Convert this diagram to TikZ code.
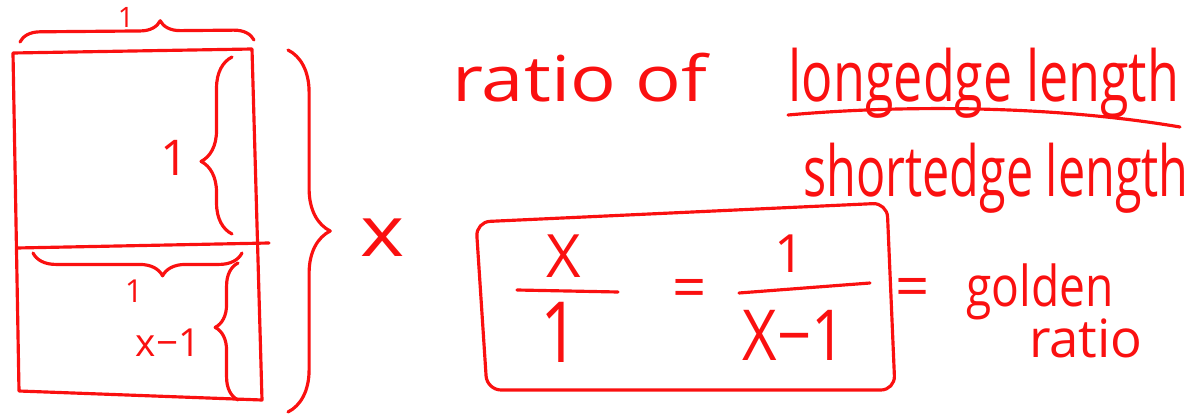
\documentclass[tikz,border=0pt]{standalone}
\usepackage{fontspec}
\setmainfont{Open Sans}
\usetikzlibrary{decorations.pathreplacing}

\begin{document}
\begin{tikzpicture}[x=0.01cm, y=-0.01cm, line width=0.9pt, line cap=round, line join=round]
  % Pen colour of the sketch
  \definecolor{cInk}{RGB}{250, 16, 16}

  \tikzset{
    hand/.style={text=cInk, inner sep=0pt, font=\fontsize{#1}{#1}\selectfont},
    curly/.style={draw=cInk, decorate, decoration={brace, amplitude=#1}}
  }

  % Page frame (pixel units, y pointing down)
  \useasboundingbox (0,0) rectangle (1202,415);

  % Tall rectangle, split into a square and a leftover strip
  \draw[cInk] (13,53) -- (252,49) -- (262,400) -- (19,391) -- cycle;
  \draw[cInk] (17,248) -- (269,243);

  % Braces round the rectangle
  \draw[curly=5.7pt, decoration={aspect=0.6}]  (20,42) -- (254,40);
  \draw[curly=8.8pt, decoration={aspect=0.41}] (232,234) -- (232,57);
  \draw[curly=6.5pt, decoration={aspect=0.38}] (242,253) -- (33,253);
  \draw[curly=6.5pt, decoration={aspect=0.53}] (238,400) -- (238,263);
  \draw[curly=12pt,  decoration={aspect=0.5}]  (288,50) -- (288,412);

  % Edge lengths
  \node[hand=8]  (topOne)   at (126,17)  {1};
  \node[hand=14] (sqOne)    at (175,158) {1};
  \node[hand=9]  (stripOne) at (134,291) {1};
  \node[hand=11] (stripX)   at (168,343) {x−1};
  \node[hand=20, xscale=1.2] (sideX) at (383,238) {x};

  % Ratio of the two edges
  \node[hand=18, xscale=1.2]  (ratioOf)   at (580,78)  {ratio of};
  \node[hand=20, xscale=0.74] (longEdge)  at (984,83)  {longedge length};
  \draw[cInk] (788,115) .. controls (900,105) and (1050,105) .. (1180,127);
  \node[hand=20, xscale=0.69] (shortEdge) at (996,178) {shortedge length};

  % Boxed equation
  \draw[cInk, rounded corners=4pt] (476,222) -- (887,203) -- (895,390) -- (487,390) -- cycle;

  % 1. Left fraction
  \node[hand=17] (numX)   at (564,256) {X};
  \draw[cInk] (517,290) -- (618,292);
  \node[hand=24, xscale=0.8] (denOne) at (560,332) {1};

  \node[hand=17] (eqA) at (690,294) {=};

  % 2. Right fraction
  \node[hand=15] (numOne) at (790,254) {1};
  \draw[cInk] (739,293) -- (870,283);
  \node[hand=20, xscale=0.85] (denX) at (794,335) {X−1};

  % Name of the ratio
  \node[hand=17] (eqB) at (913,293) {=};
  \node[hand=16, xscale=0.82] (golden) at (1040,292) {golden};
  \node[hand=15, xscale=1.0]  (ratioB) at (1086,338) {ratio};

\end{tikzpicture}
\end{document}
